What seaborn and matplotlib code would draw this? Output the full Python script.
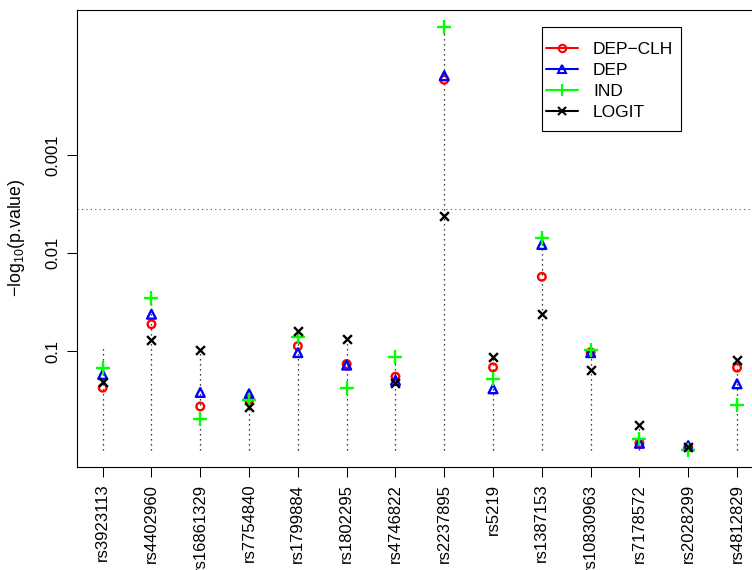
import numpy as np
import pandas as pd
import matplotlib
matplotlib.use("Agg")
import matplotlib.pyplot as plt
from matplotlib.lines import Line2D
from matplotlib.patches import Rectangle
import seaborn as sns

# ---- data (-log10 p) ----
snps = ["rs3923113", "rs4402960", "rs16861329", "rs7754840", "rs1799884",
        "rs1802295", "rs4746822", "rs2237895", "rs5219", "rs1387153",
        "rs10830963", "rs7178572", "rs2028299", "rs4812829"]

dep_clh = [0.63, 1.276, 0.439, 0.507, 1.054, 0.871, 0.742, 3.765, 0.837, 1.759, 0.99, 0.064, 0.023, 0.834]
dep = [0.765, 1.378, 0.582, 0.568, 0.987, 0.86, 0.704, 3.806, 0.619, 2.088, 0.987, 0.064, 0.04, 0.67]
ind = [0.83, 1.544, 0.313, 0.5, 1.146, 0.63, 0.946, 4.303, 0.714, 2.156, 1.014, 0.109, 0.0, 0.449]
logit = [0.687, 1.115, 1.01, 0.432, 1.204, 1.126, 0.68, 2.374, 0.942, 1.385, 0.806, 0.252, 0.031, 0.915]
stem_top = [1.04, 1.544, 1.01, 0.568, 1.204, 1.126, 0.946, 4.303, 0.942, 2.156, 1.014, 0.252, 0.04, 0.915]

ytick_vals = [1, 2, 3]
ytick_labels = ["0.1", "0.01", "0.001"]
threshold = -np.log10(0.05 / len(snps))

methods = ["DEP-CLH", "DEP", "IND", "LOGIT"]
colors = ["#FF0000", "#0000FF", "#00FF00", "#000000"]

# ---- style ----
sns.set_style("ticks")
plt.rcParams["font.family"] = ["Liberation Sans", "DejaVu Sans"]
plt.rcParams["mathtext.fontset"] = "custom"
plt.rcParams["mathtext.rm"] = "Liberation Sans"
plt.rcParams["mathtext.it"] = "Liberation Sans"
plt.rcParams["text.color"] = "black"
plt.rcParams["axes.edgecolor"] = "black"
plt.rcParams["xtick.color"] = "black"
plt.rcParams["ytick.color"] = "black"

pos = np.arange(1, len(snps) + 1)
df = pd.DataFrame({"pos": np.tile(pos, 4),
                   "val": np.concatenate([dep_clh, dep, ind, logit]),
                   "method": np.repeat(methods, len(snps))})

W, H = 752, 570
L, R, T, B = 77.3, 762.4, 10, 466.5   # axes box in pixels (right edge is off the image)
fig = plt.figure(figsize=(W / 100, H / 100), dpi=100)
ax = fig.add_axes([L / W, (H - B) / H, (R - L) / W, (B - T) / H])

# stems and threshold
ax.vlines(pos, 0, stem_top, colors="black", linestyles=(0, (1, 3)), linewidth=0.9)
ax.axhline(threshold, color="#555555", linestyle=(0, (1, 3)), linewidth=0.8)

marker_kw = {
    "DEP-CLH": dict(marker="o", s=30, facecolors="none", edgecolor="#FF0000", linewidth=1.7),
    "DEP": dict(marker="^", s=40, facecolors="none", edgecolor="#0000FF", linewidth=1.7),
    "IND": dict(marker="+", s=90, linewidth=1.7),
    "LOGIT": dict(marker="x", s=40, linewidth=1.7),
}
for m, c in zip(methods, colors):
    sub = df[df["method"] == m]
    kw = dict(marker_kw[m])
    if m in ("IND", "LOGIT"):
        kw["color"] = c
    sns.scatterplot(data=sub, x="pos", y="val", ax=ax, zorder=3, legend=False, **kw)

hi = max(max(ind), max(stem_top))
ax.set_ylim(-0.04 * hi, hi * 1.04)
ax.set_xlim(1 - 0.04 * 13, 14 + 0.04 * 13)

ax.set_xticks(pos)
ax.set_xticklabels(snps, rotation=90, fontsize=12)
ax.set_yticks(ytick_vals)
ax.set_yticklabels(ytick_labels, rotation=90, va="center", fontsize=12)
ax.tick_params(axis="both", length=7, width=0.75, direction="out")
ax.tick_params(axis="x", pad=5.5)
ax.tick_params(axis="y", pad=5)
ax.set_xlabel("")
ax.set_ylabel("")
for sp in ax.spines.values():
    sp.set_visible(True)
    sp.set_linewidth(0.8)

fig.text(17 / W, 1 - 238 / H, "$-$log$_{10}$(p.value)", rotation=90,
         ha="center", va="center", fontsize=12.8)

# legend: entries without frame, box drawn separately
handles = [
    Line2D([], [], color="#FF0000", marker="o", ms=5.3, mfc="none", mew=1.5, lw=1.5),
    Line2D([], [], color="#0000FF", marker="^", ms=6, mfc="none", mew=1.5, lw=1.5),
    Line2D([], [], color="#00FF00", marker="+", ms=9, mew=1.5, lw=1.5),
    Line2D([], [], color="#000000", marker="x", ms=6, mew=1.5, lw=1.5),
]
lab = [m.replace("-", "\u2212") for m in methods]


def ax_xy(px, py):
    return (px - L) / (R - L), (B - py) / (B - T)


ax.legend(handles, lab, loc="upper left", bbox_to_anchor=ax_xy(545.7, 41.8),
          borderaxespad=0, borderpad=0, fontsize=12.5, frameon=False,
          handlelength=1.88, handletextpad=0.85, labelspacing=0.33, numpoints=1)
x0, y0 = ax_xy(541.7, 131)
x1, y1 = ax_xy(680.7, 26.7)
ax.add_patch(Rectangle((x0, y0), x1 - x0, y1 - y0, transform=ax.transAxes,
                       fill=False, edgecolor="black", linewidth=0.8, zorder=5))

fig.savefig("out.png", dpi=100)
